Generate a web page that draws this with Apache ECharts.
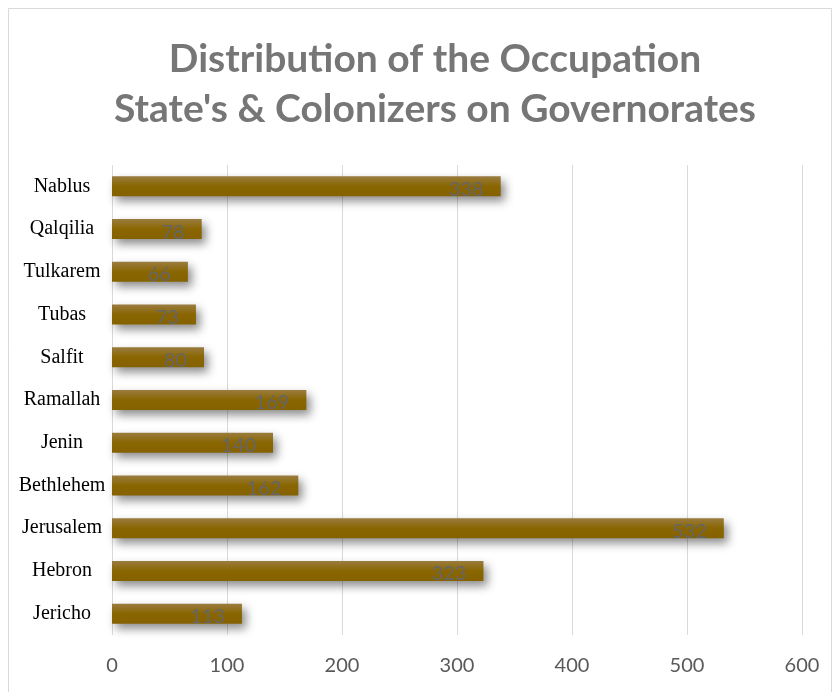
<!DOCTYPE html>
<html>
<head>
<meta charset="utf-8">
<script src="https://cdn.jsdelivr.net/npm/echarts@6/dist/echarts.min.js"></script>
<style>html,body{margin:0;padding:0;background:#fff}#c{width:839px;height:692px}</style>
</head>
<body>
<div id="c"></div>
<script>
const titleLines = ["Distribution of the Occupation", "State's & Colonizers on Governorates"];
const categories = ["Nablus","Qalqilia","Tulkarem","Tubas","Salfit","Ramallah","Jenin","Bethlehem","Jerusalem","Hebron","Jericho"];
const values = [338, 78, 66, 73, 80, 169, 140, 162, 532, 323, 113];
const xTicks = [0, 100, 200, 300, 400, 500, 600];

const chart = echarts.init(document.getElementById('c'));
chart.setOption({
  animation: false,
  title: {
    text: titleLines.join('\n'),
    left: 430,
    textAlign: 'center',
    top: 29,
    textStyle: { fontFamily: 'Lato', fontWeight: 'bold', fontSize: 39, color: '#767676', lineHeight: 50, align: 'center' }
  },
  graphic: [{
    type: 'rect', shape: { x: 8.5, y: 8.5, width: 823, height: 700 },
    style: { fill: 'none', stroke: '#d9d9d9', lineWidth: 1 }, silent: true, z: -1
  }],
  grid: { left: 112, right: 37, top: 165, bottom: 57 },
  xAxis: {
    type: 'value', min: xTicks[0], max: xTicks[xTicks.length - 1], interval: 100,
    axisLine: { show: false }, axisTick: { show: false },
    splitLine: { show: true, lineStyle: { color: '#d9d9d9', width: 1 } },
    axisLabel: { color: '#595959', fontFamily: 'Lato', fontSize: 20, margin: 21 }
  },
  yAxis: {
    type: 'category', data: categories, inverse: true,
    axisLine: { show: false }, axisTick: { show: false },
    axisLabel: { color: '#000', fontFamily: 'Liberation Serif', fontSize: 20, align: 'center', margin: 50 }
  },
  series: [{
    type: 'bar', data: values, barWidth: 20,
    itemStyle: {
      color: new echarts.graphic.LinearGradient(0, 0, 0, 1, [
        { offset: 0, color: '#9a7c40' },
        { offset: 0.5, color: '#896600' },
        { offset: 1, color: '#856200' }
      ]),
      shadowColor: 'rgba(0,0,0,0.45)', shadowBlur: 10, shadowOffsetX: 4, shadowOffsetY: 5
    },
    label: {
      show: true, position: 'insideRight', distance: 17, offset: [0, 3],
      color: '#666666', fontFamily: 'Lato', fontSize: 20
    }
  }]
});
</script>
</body>
</html>
